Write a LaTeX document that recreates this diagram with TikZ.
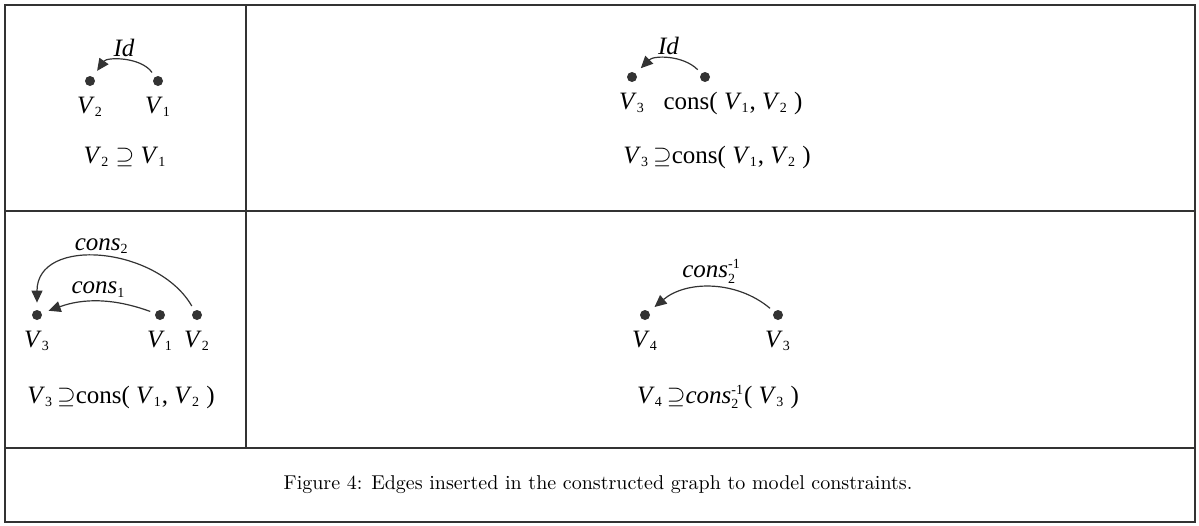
\documentclass[tikz,border=0pt]{standalone}
\usepackage{fontspec}
\usepackage{tikz}
\usetikzlibrary{arrows.meta,positioning}
\newfontfamily\tms{Liberation Serif}
\definecolor{InkGray}{HTML}{333333}
\newcommand{\sbx}[1]{$_{\hbox{\upshape\fontsize{7}{8}\selectfont #1}}$}
\newcommand{\sbsp}[2]{$_{\hbox{\upshape\fontsize{7}{8}\selectfont #1}}^{\hbox{\upshape\fontsize{7}{8}\selectfont #2}}$}
\newcommand{\vx}[1]{\textit{V}\sbx{#1}}

\begin{document}
\begin{tikzpicture}[
  x=0.5pt, y=-0.5pt,
  frame/.style={draw=InkGray, line width=0.8pt},
  vtx/.style={circle, fill=InkGray, inner sep=0pt, minimum size=5pt},
  lab/.style={font=\tms\fontsize{12.5}{14}\selectfont, inner sep=1pt},
  edge/.style={-{Triangle[length=6pt, width=5.5pt]}, line width=0.6pt, draw=InkGray, shorten >=3.5pt, shorten <=2.5pt},
  elab/.style={font=\tms\itshape\fontsize{12.5}{14}\selectfont, inner sep=1pt, above=1pt}
]
\useasboundingbox (0,0) rectangle (1199,525);

% table rules
\draw[frame] (5,5) rectangle (1195,522);
\draw[frame] (5,211) -- (1195,211);
\draw[frame] (5,448) -- (1195,448);
\draw[frame] (246,5) -- (246,448);

% V2 <- V1
\node[vtx] (a2) at (90,81) {};
\node[vtx] (a1) at (158,81) {};
\node[lab, below=4pt of a2] (a2l) {\vx{2}};
\node[lab, below=4pt of a1] (a1l) {\vx{1}};
\draw[edge] (a1) to[bend right=55] node[elab] {Id} (a2);
\node[lab] (arel) at (125,157) {\vx{2} $\supseteq$ \vx{1}};

% V3 <- cons(V1,V2)
\node[vtx] (b3) at (632,77) {};
\node[vtx] (bc) at (705,77) {};
\node[lab, below=4pt of b3] (b3l) {\vx{3}};
\node[lab, anchor=base west] (bcl) at ([xshift=7pt]b3l.base east) {cons( \vx{1}, \vx{2} )};
\draw[edge] (bc) to[bend right=45] node[elab] {Id} (b3);
\node[lab] (brel) at (717,157) {\vx{3}\,$\supseteq$cons( \vx{1}, \vx{2} )};

% cons edges into V3
\node[vtx] (c3) at (37,315) {};
\node[vtx] (c1) at (160,315) {};
\node[vtx] (c2) at (197,315) {};
\node[lab, below=4pt of c3] (c3l) {\vx{3}};
\node[lab, below=4pt of c1] (c1l) {\vx{1}};
\node[lab, below=4pt of c2] (c2l) {\vx{2}};
\draw[edge] (c2) to[out=120, in=90, looseness=1.2] node[elab] {cons\sbx{2}} (c3);
\draw[edge] (c1) to[bend right=20] node[elab] {cons\sbx{1}} (c3);
\node[lab] (crel) at (121,397) {\vx{3}\,$\supseteq$cons( \vx{1}, \vx{2} )};

% inverse edge
\node[vtx] (d4) at (645,315) {};
\node[vtx] (d3) at (778,315) {};
\node[lab, below=4pt of d4] (d4l) {\vx{4}};
\node[lab, below=4pt of d3] (d3l) {\vx{3}};
\draw[edge] (d3) to[bend right=40] node[elab] {cons\sbsp{2}{-1}} (d4);
\node[lab] (drel) at (718,397) {\vx{4}\,$\supseteq$\textit{cons}\sbsp{2}{-1}( \vx{3} )};

\node (caption) at (598,485) {Figure 4: Edges inserted in the constructed graph to model constraints.};
\end{tikzpicture}
\end{document}
